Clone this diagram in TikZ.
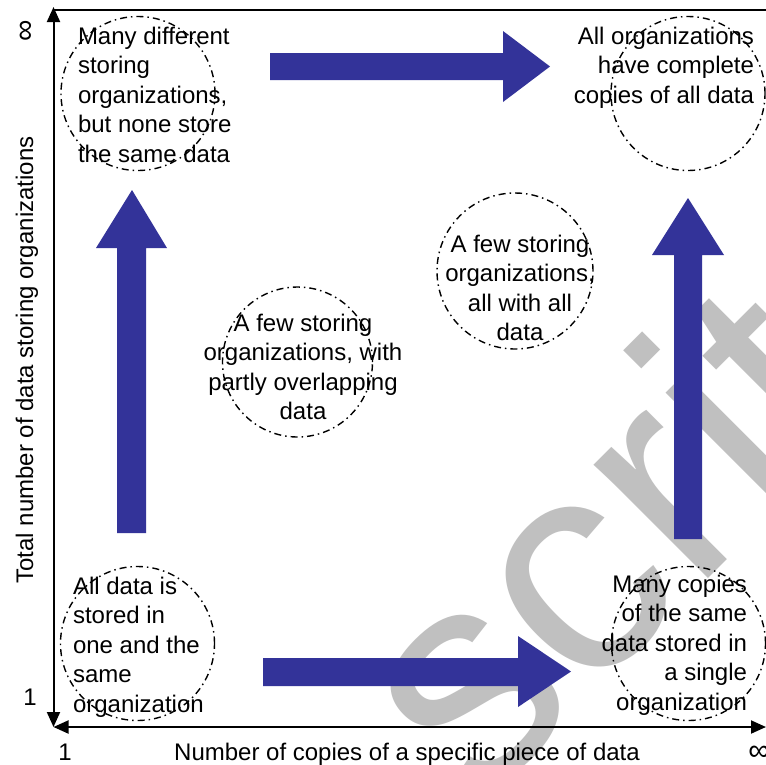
\documentclass[tikz,border=0pt]{standalone}
\usepackage{fontspec}
\setmainfont{Liberation Sans}
\usetikzlibrary{arrows.meta}
\definecolor{arrowblue}{RGB}{51,51,153}
\definecolor{wmgray}{RGB}{192,192,192}
\tikzset{
  lbl/.style={font=\fontsize{24}{29.5}\selectfont, inner sep=0pt, outer sep=0pt},
  inflbl/.style={font=\fontsize{30}{30}\selectfont, inner sep=0pt, outer sep=0pt},
  wm/.style={font=\fontsize{305}{305}\selectfont, text=wmgray, inner sep=0pt, outer sep=0pt},
  zone/.style={draw=black, line width=1.4pt, dash pattern=on 7pt off 4pt on 1.5pt off 4pt},
  blockarrow/.style={fill=arrowblue, draw=none},
  axisline/.style={line width=2pt, {Triangle[length=15pt,width=13pt]}-{Triangle[length=15pt,width=13pt]}},
  frameline/.style={line width=2pt},
}
\begin{document}
\begin{tikzpicture}[x=1pt,y=-1pt]
\useasboundingbox (0,0) rectangle (766,764);
\fill[white] (0,0) rectangle (766,764);
\clip (0,0) rectangle (766,764);

% watermark
\node[wm, anchor=base west, rotate=45] (watermark) at (477.7,809.3) {scrit};

% zones
\draw[zone] (138,93.5) circle[radius=77pt];
\draw[zone] (688,93.5) circle[radius=77pt];
\draw[zone] (515,271) circle[radius=78pt];
\draw[zone] (297.5,362) circle[radius=75pt];
\draw[zone] (137.5,643.5) circle[radius=77pt];
\draw[zone] (688.5,643.5) circle[radius=77pt];

% block arrows
\fill[blockarrow] (270,53) -- (503,53) -- (503,31) -- (550,66.5) -- (503,102) -- (503,80) -- (270,80) -- cycle;
\fill[blockarrow] (263,658) -- (518,658) -- (518,636) -- (571,671.5) -- (518,707) -- (518,686) -- (263,686) -- cycle;
\fill[blockarrow] (117,533) -- (117,248) -- (96,248) -- (132,190) -- (167,248) -- (146,248) -- (146,533) -- cycle;
\fill[blockarrow] (674,539) -- (674,255) -- (652,255) -- (688,198) -- (724,255) -- (702,255) -- (702,539) -- cycle;

% texts
\node[lbl, align=left, anchor=north west] (tl) at (78,27) {Many different\\storing\\organizations,\\but none store\\the same data};
\node[lbl, align=right, anchor=north east] (tr) at (754,27) {All organizations\\have complete\\copies of all data};
\node[lbl, align=center, anchor=north] (mt) at (520,235) {A few storing\\organizations,\\all with all\\data};
\node[lbl, align=center, anchor=north] (ml) at (303,314) {A few storing\\organizations, with\\partly overlapping\\data};
\node[lbl, align=left, anchor=north west] (bl) at (73,577) {All data is\\stored in\\one and the\\same\\organization};
\node[lbl, align=right, anchor=north east] (br) at (747,575) {Many copies\\of the same\\data stored in\\a single\\organization};

% axes
\coordinate (origin) at (53.5,727);
\coordinate (ytop) at (53.5,7);
\coordinate (xend) at (766,727);
\coordinate (topl) at (53.5,10);
\coordinate (topr) at (766,10);
\draw[axisline] (origin) -- (ytop);
\draw[axisline] (origin) -- (xend);
\draw[frameline] (topl) -- (topr);

% axis labels
\node[lbl, anchor=base] (xlabel) at (407,760) {Number of copies of a specific piece of data};
\node[lbl, anchor=base, rotate=90] (ylabel) at (33,360) {Total number of data storing organizations};
\node[inflbl, rotate=90] (yinf) at (27,31) {∞};
\node[lbl] (yone) at (30,697) {1};
\node[lbl] (xone) at (65,752) {1};
\node[inflbl] (xinf) at (759,753) {∞};
\end{tikzpicture}
\end{document}
